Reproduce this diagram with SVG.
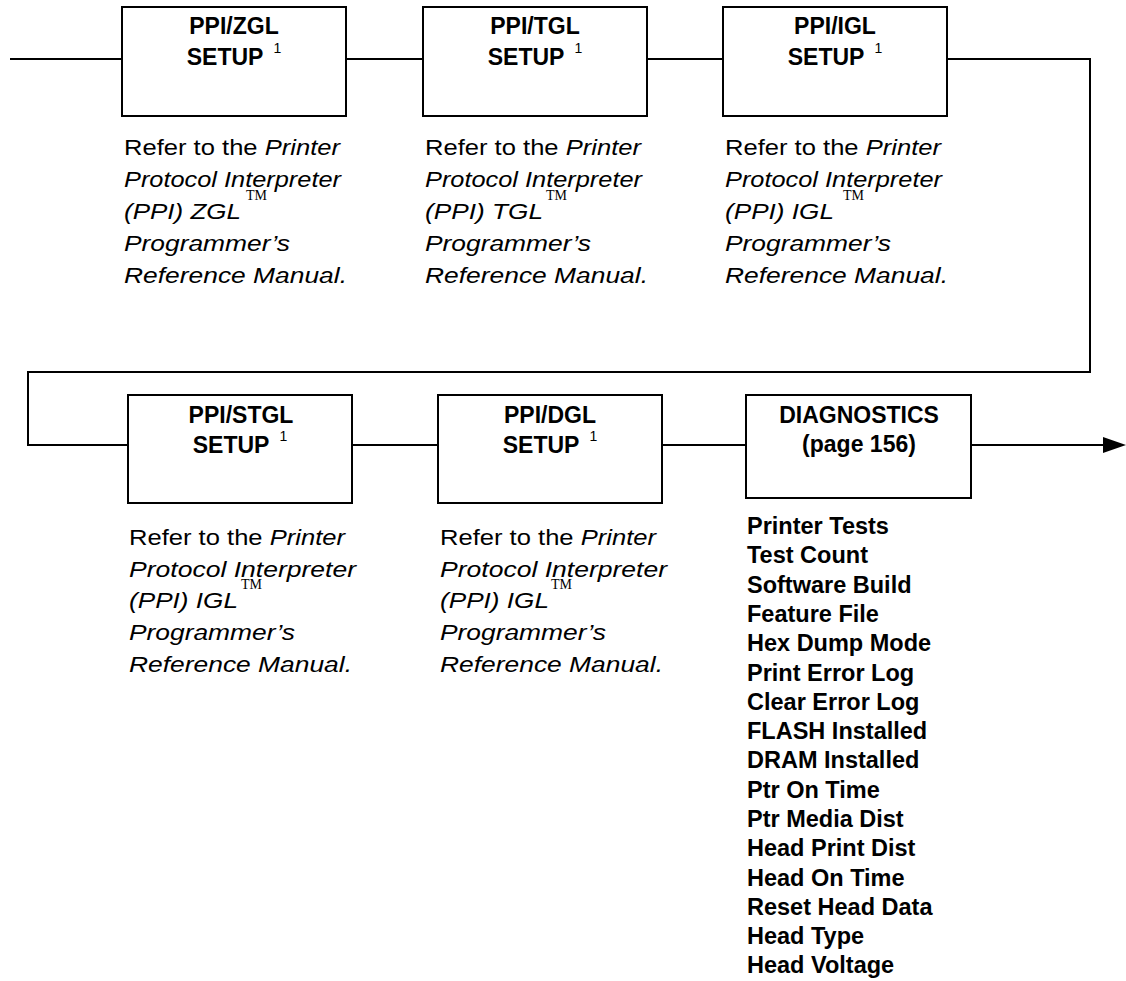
<svg xmlns="http://www.w3.org/2000/svg" width="1126" height="981" viewBox="0 0 1126 981">
<style>
.box{fill:#fff;stroke:#000;stroke-width:2}
.ln{fill:none;stroke:#000;stroke-width:2}
.t{font-family:"Liberation Sans",Arial,sans-serif;font-weight:bold;font-size:23px;fill:#000;text-anchor:middle}
.sup{font-weight:normal;font-size:14px}
.d{font-family:"Liberation Sans",Arial,sans-serif;font-size:22.5px;fill:#000}
.i{font-style:italic}
.tm{font-family:"Liberation Serif","Times New Roman",serif;font-size:14px;fill:#000}
.l{font-family:"Liberation Sans",Arial,sans-serif;font-weight:bold;font-size:23.5px;fill:#000}
</style>
<rect width="1126" height="981" fill="#fff"/>
<g id="connectors">
<polyline class="ln" points="10,59 122,59"/>
<polyline class="ln" points="346,59 423,59"/>
<polyline class="ln" points="647,59 723,59"/>
<polyline class="ln" points="947,59 1090,59 1090,372 28,372 28,445 128,445"/>
<polyline class="ln" points="352,445 438,445"/>
<polyline class="ln" points="662,445 746,445"/>
<polyline class="ln" points="971,445 1105,445"/>
<polygon points="1103,437 1126,445 1103,453" fill="#000"/>
</g>
<g id="ppi-zgl">
<rect class="box" x="122" y="7" width="224" height="109"/>
<text class="t" x="234" y="34">PPI/ZGL</text>
<text class="t" x="234" y="65">SETUP<tspan class="sup" dx="10" dy="-12">1</tspan></text>
<text class="d" x="124" y="155" textLength="216" lengthAdjust="spacingAndGlyphs">Refer to the <tspan class="i">Printer</tspan></text>
<text class="d i" x="124" y="187" textLength="217" lengthAdjust="spacingAndGlyphs">Protocol Interpreter</text>
<text class="d i" x="124" y="219" textLength="117" lengthAdjust="spacingAndGlyphs">(PPI) ZGL</text>
<text class="tm" x="246" y="200">TM</text>
<text class="d i" x="124" y="251" textLength="166" lengthAdjust="spacingAndGlyphs">Programmer’s</text>
<text class="d i" x="124" y="283" textLength="223" lengthAdjust="spacingAndGlyphs">Reference Manual.</text>
</g>
<g id="ppi-tgl">
<rect class="box" x="423" y="7" width="224" height="109"/>
<text class="t" x="535" y="34">PPI/TGL</text>
<text class="t" x="535" y="65">SETUP<tspan class="sup" dx="10" dy="-12">1</tspan></text>
<text class="d" x="425" y="155" textLength="216" lengthAdjust="spacingAndGlyphs">Refer to the <tspan class="i">Printer</tspan></text>
<text class="d i" x="425" y="187" textLength="217" lengthAdjust="spacingAndGlyphs">Protocol Interpreter</text>
<text class="d i" x="425" y="219" textLength="118" lengthAdjust="spacingAndGlyphs">(PPI) TGL</text>
<text class="tm" x="546" y="200">TM</text>
<text class="d i" x="425" y="251" textLength="166" lengthAdjust="spacingAndGlyphs">Programmer’s</text>
<text class="d i" x="425" y="283" textLength="223" lengthAdjust="spacingAndGlyphs">Reference Manual.</text>
</g>
<g id="ppi-igl">
<rect class="box" x="723" y="7" width="224" height="109"/>
<text class="t" x="835" y="34">PPI/IGL</text>
<text class="t" x="835" y="65">SETUP<tspan class="sup" dx="10" dy="-12">1</tspan></text>
<text class="d" x="725" y="155" textLength="216" lengthAdjust="spacingAndGlyphs">Refer to the <tspan class="i">Printer</tspan></text>
<text class="d i" x="725" y="187" textLength="217" lengthAdjust="spacingAndGlyphs">Protocol Interpreter</text>
<text class="d i" x="725" y="219" textLength="109" lengthAdjust="spacingAndGlyphs">(PPI) IGL</text>
<text class="tm" x="843" y="200">TM</text>
<text class="d i" x="725" y="251" textLength="166" lengthAdjust="spacingAndGlyphs">Programmer’s</text>
<text class="d i" x="725" y="283" textLength="223" lengthAdjust="spacingAndGlyphs">Reference Manual.</text>
</g>
<g id="ppi-stgl">
<rect class="box" x="128" y="395" width="224" height="108"/>
<text class="t" x="241" y="423">PPI/STGL</text>
<text class="t" x="240" y="453">SETUP<tspan class="sup" dx="10" dy="-12">1</tspan></text>
<text class="d" x="129" y="545" textLength="216" lengthAdjust="spacingAndGlyphs">Refer to the <tspan class="i">Printer</tspan></text>
<text class="d i" x="129" y="577" textLength="227" lengthAdjust="spacingAndGlyphs">Protocol Interpreter</text>
<text class="d i" x="129" y="608" textLength="109" lengthAdjust="spacingAndGlyphs">(PPI) IGL</text>
<text class="tm" x="241" y="589">TM</text>
<text class="d i" x="129" y="640" textLength="166" lengthAdjust="spacingAndGlyphs">Programmer’s</text>
<text class="d i" x="129" y="672" textLength="223" lengthAdjust="spacingAndGlyphs">Reference Manual.</text>
</g>
<g id="ppi-dgl">
<rect class="box" x="438" y="395" width="224" height="108"/>
<text class="t" x="550" y="423">PPI/DGL</text>
<text class="t" x="550" y="453">SETUP<tspan class="sup" dx="10" dy="-12">1</tspan></text>
<text class="d" x="440" y="545" textLength="216" lengthAdjust="spacingAndGlyphs">Refer to the <tspan class="i">Printer</tspan></text>
<text class="d i" x="440" y="577" textLength="227" lengthAdjust="spacingAndGlyphs">Protocol Interpreter</text>
<text class="d i" x="440" y="608" textLength="109" lengthAdjust="spacingAndGlyphs">(PPI) IGL</text>
<text class="tm" x="551" y="589">TM</text>
<text class="d i" x="440" y="640" textLength="166" lengthAdjust="spacingAndGlyphs">Programmer’s</text>
<text class="d i" x="440" y="672" textLength="223" lengthAdjust="spacingAndGlyphs">Reference Manual.</text>
</g>
<g id="diagnostics">
<rect class="box" x="746" y="395" width="225" height="103"/>
<text class="t" x="859" y="423">DIAGNOSTICS</text>
<text class="t" x="859" y="452">(page 156)</text>
<text class="l" x="747" y="534">Printer Tests</text>
<text class="l" x="747" y="563.3">Test Count</text>
<text class="l" x="747" y="592.6">Software Build</text>
<text class="l" x="747" y="621.9">Feature File</text>
<text class="l" x="747" y="651.2">Hex Dump Mode</text>
<text class="l" x="747" y="680.5">Print Error Log</text>
<text class="l" x="747" y="709.7">Clear Error Log</text>
<text class="l" x="747" y="739">FLASH Installed</text>
<text class="l" x="747" y="768.3">DRAM Installed</text>
<text class="l" x="747" y="797.6">Ptr On Time</text>
<text class="l" x="747" y="826.9">Ptr Media Dist</text>
<text class="l" x="747" y="856.2">Head Print Dist</text>
<text class="l" x="747" y="885.5">Head On Time</text>
<text class="l" x="747" y="914.8">Reset Head Data</text>
<text class="l" x="747" y="944.1">Head Type</text>
<text class="l" x="747" y="973.4">Head Voltage</text>
</g>
</svg>
